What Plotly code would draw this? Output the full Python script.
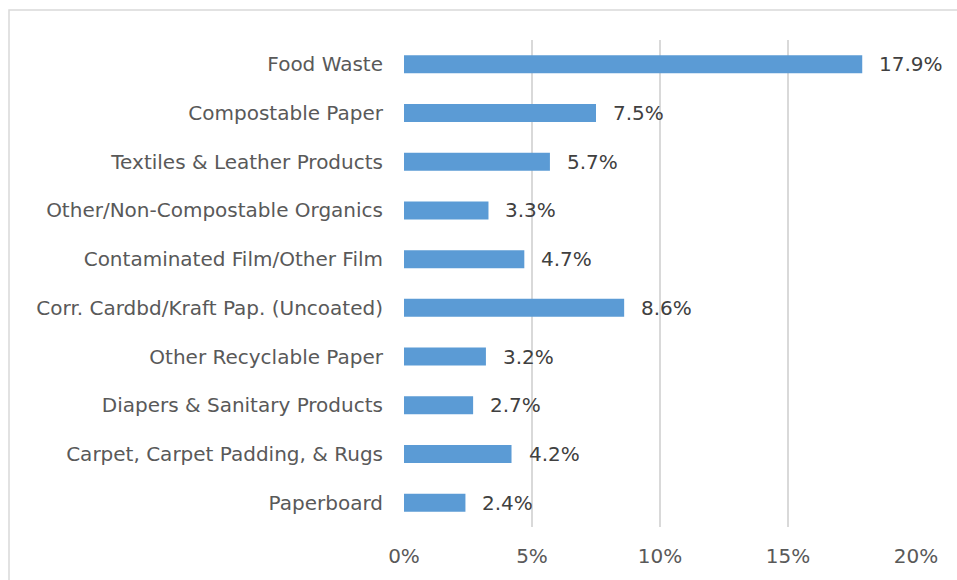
import plotly.graph_objects as go

categories = ["Food Waste", "Compostable Paper", "Textiles & Leather Products",
              "Other/Non-Compostable Organics", "Contaminated Film/Other Film",
              "Corr. Cardbd/Kraft Pap. (Uncoated)", "Other Recyclable Paper",
              "Diapers & Sanitary Products", "Carpet, Carpet Padding, & Rugs",
              "Paperboard"]
values = [17.9, 7.5, 5.7, 3.3, 4.7, 8.6, 3.2, 2.7, 4.2, 2.4]
x_ticks = [0, 5, 10, 15, 20]
x_tick_labels = ["0%", "5%", "10%", "15%", "20%"]

FONT = "DejaVu Sans, sans-serif"

fig = go.Figure()
fig.add_trace(go.Bar(
    y=categories, x=values, orientation="h",
    marker=dict(color="#5b9bd5", line=dict(width=0)),
    width=0.37, hoverinfo="skip",
))

for c, v in zip(categories, values):
    fig.add_annotation(x=v, y=c, text=f"{v:.1f}%", showarrow=False,
                       xanchor="left", xshift=15,
                       font=dict(family=FONT, size=20, color="#404040"))

fig.update_layout(
    width=957, height=580,
    margin=dict(l=404, r=41, t=40, b=53),
    paper_bgcolor="white", plot_bgcolor="white",
    showlegend=False,
    xaxis=dict(range=[0, 20], tickvals=x_ticks, ticktext=x_tick_labels,
               showgrid=True, gridcolor="#d9d9d9", gridwidth=2,
               zeroline=False, showline=False,
               tickfont=dict(family=FONT, size=20, color="#595959"),
               ticks="", ticklabelstandoff=15, fixedrange=True),
    yaxis=dict(categoryorder="array", categoryarray=categories[::-1],
               showgrid=False, zeroline=False, showline=False,
               tickfont=dict(family=FONT, size=20, color="#595959"),
               ticks="", ticklabelstandoff=20, fixedrange=True),
    shapes=[dict(type="rect", xref="paper", yref="paper",
                 x0=-395/512, x1=1.2, y0=-0.2, y1=1 + 30/487,
                 line=dict(color="#d9d9d9", width=1.5), fillcolor="rgba(0,0,0,0)",
                 layer="below")],
)

fig.write_html("out.html", config={"displayModeBar": False},
               post_script="document.body.style.margin='0';")
